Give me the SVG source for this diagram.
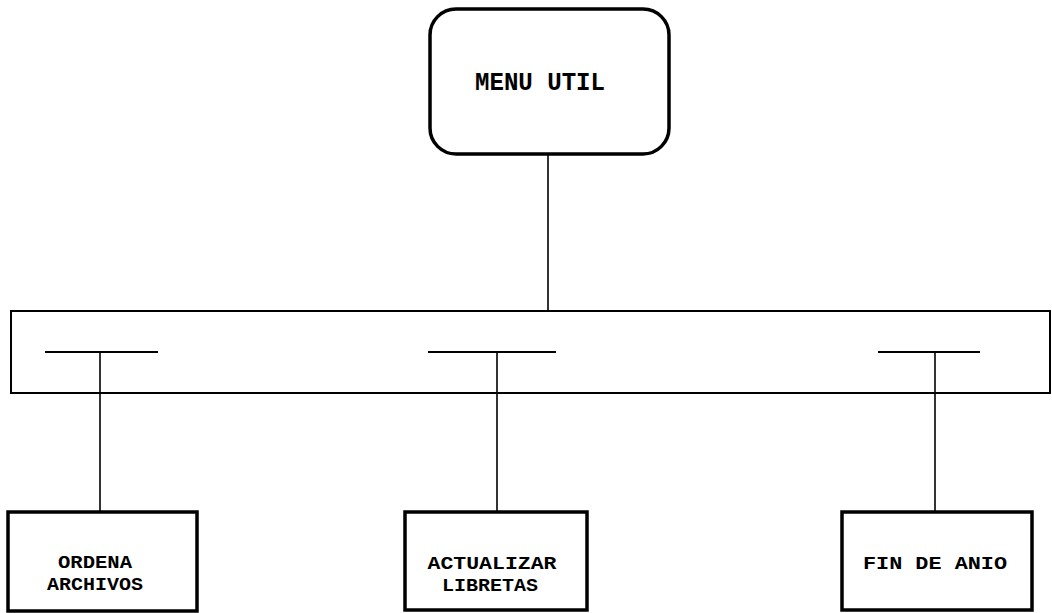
<svg xmlns="http://www.w3.org/2000/svg" width="1052" height="613" viewBox="0 0 1052 613">
<style>
.box{fill:#fff;stroke:#000;stroke-width:3.5}
.bar{fill:none;stroke:#000;stroke-width:2}
.ln{stroke:#000;stroke-width:1.6;fill:none}
.tk{stroke:#000;stroke-width:2;fill:none}
text{font-family:"Liberation Mono","DejaVu Sans Mono",monospace;font-weight:bold;fill:#000;text-anchor:middle}
</style>
<rect width="1052" height="613" fill="#fff"/>
<g id="connectors">
<line class="ln" x1="548" y1="155" x2="548" y2="311"/>
<rect class="bar" x="11" y="311" width="1039" height="82"/>
<line class="tk" x1="45" y1="352" x2="158" y2="352"/>
<line class="tk" x1="428" y1="352" x2="556" y2="352"/>
<line class="tk" x1="878" y1="352" x2="980" y2="352"/>
<line class="ln" x1="100" y1="352" x2="100" y2="512"/>
<line class="ln" x1="497" y1="352" x2="497" y2="512"/>
<line class="ln" x1="935" y1="352" x2="935" y2="512"/>
</g>
<g id="menu-util">
<rect class="box" x="430" y="9" width="239" height="145" rx="26" ry="26"/>
<text x="540" y="90" font-size="25" textLength="130" lengthAdjust="spacingAndGlyphs">MENU  UTIL</text>
</g>
<g id="ordena-archivos">
<rect class="box" x="8" y="512" width="189" height="99"/>
<text x="95" y="568" font-size="18" textLength="74" lengthAdjust="spacingAndGlyphs">ORDENA</text>
<text x="95" y="590" font-size="18" textLength="96" lengthAdjust="spacingAndGlyphs">ARCHIVOS</text>
</g>
<g id="actualizar-libretas">
<rect class="box" x="405" y="512" width="182" height="98"/>
<text x="492" y="569" font-size="18" textLength="129" lengthAdjust="spacingAndGlyphs">ACTUALIZAR</text>
<text x="490" y="591" font-size="18" textLength="96" lengthAdjust="spacingAndGlyphs">LIBRETAS</text>
</g>
<g id="fin-de-anio">
<rect class="box" x="842" y="512" width="190" height="98"/>
<text x="935" y="569" font-size="19" textLength="144" lengthAdjust="spacingAndGlyphs">FIN DE ANIO</text>
</g>
</svg>
